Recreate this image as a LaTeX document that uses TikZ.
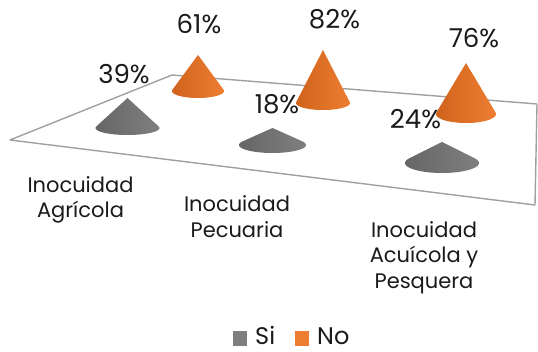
\documentclass[tikz,border=0pt]{standalone}
\usepackage{fontspec}
\setmainfont{Poppins}
\definecolor{txt}{HTML}{1A1A1A}
\definecolor{floorc}{HTML}{A0A0A0}
\definecolor{sig}{HTML}{7F7F7F}
\definecolor{sigd}{HTML}{666666}
\definecolor{sigl}{HTML}{979797}
\definecolor{noo}{HTML}{ED7D31}
\definecolor{nood}{HTML}{D0631C}
\definecolor{nool}{HTML}{F7A659}
\newcommand\drawcone[6]{%
  \pgfmathsetmacro\conehh{#2-#5}%
  \pgfmathsetmacro\coneal{asin(#4/\conehh)}%
  \path[#6] (#1,#5) -- plot[domain=-\coneal:180+\coneal, samples=50] ({#1+#3*cos(\x)},{#2+#4*sin(\x)}) -- cycle;%
}
\tikzset{
  siscone/.style={left color=sigd, middle color=sigl, right color=sig},
  noscone/.style={left color=nood, middle color=nool, right color=noo},
  datalbl/.style={font=\fontsize{26}{30}\selectfont, text=txt, anchor=base, inner sep=0pt},
  catlbl/.style={font=\fontsize{21}{25}\selectfont, text=txt, anchor=base, inner sep=0pt},
  leglbl/.style={font=\fontsize{24}{28}\selectfont, text=txt, anchor=base west, inner sep=0pt},
}
\begin{document}
\begin{tikzpicture}[x=1pt,y=-1pt]
\useasboundingbox (0,0) rectangle (538,352);
% floor
\coordinate (fl) at (10,140);
\coordinate (ft) at (172,75);
\coordinate (fr) at (537,104);
\coordinate (fb) at (535,205);
\draw[floorc, line width=1.4pt, line join=round] (fl) -- (ft) -- (fr) -- (fb) -- cycle;
% cones
\drawcone{127.5}{128}{32}{7}{98}{siscone}
\drawcone{198}{91}{26}{7}{55}{noscone}
\drawcone{272.5}{145}{33.5}{8}{128}{siscone}
\drawcone{323}{103}{27}{7}{50}{noscone}
\drawcone{442}{163}{37}{10}{142}{siscone}
\drawcone{466}{114}{30}{9}{63}{noscone}
% data labels
\node[datalbl] (l61) at (199,34) {61\%};
\node[datalbl] (l39) at (124,84) {39\%};
\node[datalbl] (l18) at (277,114) {18\%};
\node[datalbl] (l82) at (334.5,29) {82\%};
\node[datalbl] (l76) at (474,48) {76\%};
\node[datalbl] (l24) at (415.5,129) {24\%};
% categories
\node[catlbl] (a1) at (80.5,193) {Inocuidad};
\node[catlbl] (a2) at (80.5,218) {Agrícola};
\node[catlbl] (p1) at (237,212) {Inocuidad};
\node[catlbl] (p2) at (237,237.5) {Pecuaria};
\node[catlbl] (q1) at (424,238) {Inocuidad};
\node[catlbl] (q2) at (424,263) {Acuícola y};
\node[catlbl] (q3) at (424,289) {Pesquera};
% legend
\fill[sig] (233,331) rectangle (247,346);
\node[leglbl] (si) at (255,345) {Si};
\fill[noo] (295,331) rectangle (309,346);
\node[leglbl] (no) at (317,345) {No};
\end{tikzpicture}
\end{document}
